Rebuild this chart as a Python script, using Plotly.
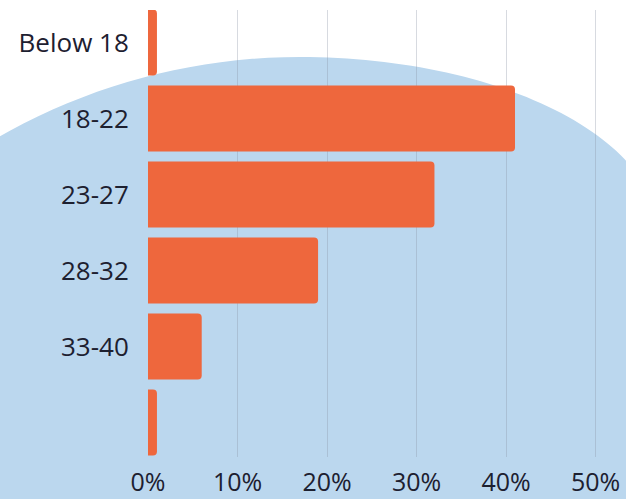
import math
import plotly.graph_objects as go

categories = ["Below 18", "18-22", "23-27", "28-32", "33-40", "Above 40"]
tick_labels = ["Below 18", "18-22", "23-27", "28-32", "33-40", ""]
values = [1, 41, 32, 19, 6, 1]
x_ticks = [0, 10, 20, 30, 40, 50]
x_tick_labels = ["0%", "10%", "20%", "30%", "40%", "50%"]

W, H = 626, 499
ML, MR, MT, MB = 148, 17, 10, 42
pw = W - ML - MR
ph = H - MT - MB

def px_to_paper_x(px):
    return (px - ML) / pw

def px_to_paper_y(py):
    return (H - MB - py) / ph

# background blob: two quarter-ellipses sharing the top point (pixel geometry)
top_x, top_y = 300, 57
left_rx, left_ry = 608, 608
right_rx, right_ry = 360, 180

pts = []
for i in range(0, 61):
    t = math.pi / 2 * i / 60          # from left side up to the top
    pts.append((top_x - left_rx * math.cos(t), top_y + left_ry - left_ry * math.sin(t)))
for i in range(1, 61):
    t = math.pi / 2 * i / 60          # from the top down to the right side
    pts.append((top_x + right_rx * math.sin(t), top_y + right_ry - right_ry * math.cos(t)))
pts.append((top_x + right_rx, H + 40))
pts.append((top_x - left_rx, H + 40))
path = "M " + " L ".join(f"{px_to_paper_x(x):.5f},{px_to_paper_y(y):.5f}" for x, y in pts) + " Z"

fig = go.Figure()
fig.add_trace(go.Bar(
    y=list(range(len(categories))), x=values, orientation="h",
    marker=dict(color="#EE673D", line=dict(width=0), cornerradius=4),
    hoverinfo="skip", width=0.87,
))
fig.add_shape(type="path", path=path, xref="paper", yref="paper", layer="below",
              fillcolor="#BBD7EE", line=dict(width=0))

font_family = "'Open Sans', sans-serif"
text_color = "#1d2030"
fig.update_layout(
    width=W, height=H, autosize=False,
    margin=dict(l=ML, r=MR, t=MT, b=MB, pad=0),
    paper_bgcolor="white", plot_bgcolor="rgba(0,0,0,0)",
    showlegend=False,
    font=dict(family=font_family, size=26, color=text_color),
)
fig.update_xaxes(range=[0, 51.5], tickvals=x_ticks, ticktext=x_tick_labels,
                 automargin=False,
                 showgrid=True, gridcolor="rgba(140,150,165,0.35)", gridwidth=1,
                 zeroline=False, showline=False,
                 ticks="outside", ticklen=3, tickcolor="rgba(0,0,0,0)",
                 tickfont=dict(size=25, family=font_family, color=text_color))
fig.update_yaxes(range=[5.454, -0.428], automargin=False,
                 tickvals=list(range(len(categories))), ticktext=tick_labels,
                 showgrid=False, zeroline=False, showline=False,
                 ticks="outside", ticklen=13, tickcolor="rgba(0,0,0,0)",
                 tickfont=dict(size=26, family=font_family, color=text_color))

fig.write_html("out.html",
               config={"displayModeBar": False, "responsive": False},
               post_script="document.body.style.margin='0';")
